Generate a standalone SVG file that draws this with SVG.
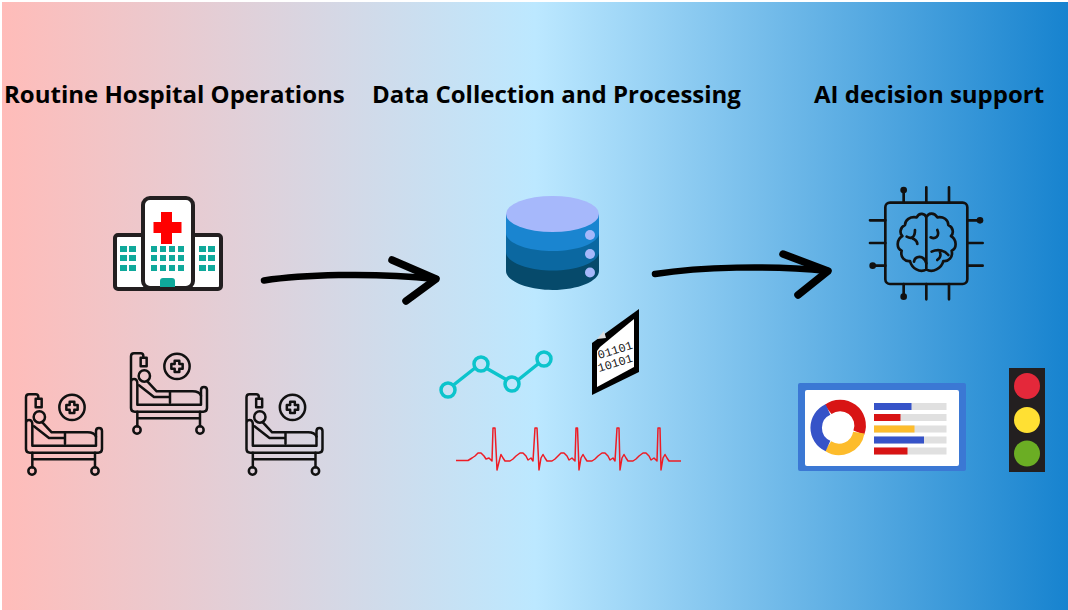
<svg xmlns="http://www.w3.org/2000/svg" xmlns:xlink="http://www.w3.org/1999/xlink" width="1068" height="610" viewBox="0 0 1068 610">
<style>
.t{font-family:"Open Sans","Liberation Sans",sans-serif;font-weight:700;font-size:24px;fill:#000}
.l{fill:none;stroke:#111;stroke-linecap:round;stroke-linejoin:round}
.a{fill:none;stroke:#000;stroke-linecap:round;stroke-linejoin:round}
</style>
<defs>
<linearGradient id="bg" x1="0" x2="1" y1="0" y2="0">
<stop offset="0" stop-color="#ffbcb9"/><stop offset="0.5" stop-color="#bce8ff"/><stop offset="1" stop-color="#1783cf"/>
</linearGradient>
<g id="bed" class="l" stroke-width="7.5">
<path d="M70 160V156Q70 148 62 148H42Q33 148 33 157V312Q33 323 44 323H250Q261 323 261 312V258Q261 249 252 249T243 258V302H52V238Q52 225 42 225T33 238"/>
<rect x="62" y="161" width="18" height="26"/>
<circle cx="73" cy="216" r="17"/>
<path d="M82 232L110 262H150V296M57 244L102 279H150M150 262H218Q238 262 243 275"/>
<path d="M52 323V367M240 323V367M52 343H240"/>
<circle cx="51" cy="378" r="11"/><circle cx="240" cy="378" r="11"/>
<circle cx="171" cy="187" r="38"/>
<path d="M164 170H178V180H188V194H178V204H164V194H154V180H164Z"/>
</g>
</defs>
<rect width="1068" height="610" fill="#fff"/>
<rect x="2" y="2" width="1066" height="608" fill="url(#bg)"/>
<text class="t" x="4" y="103">Routine Hospital Operations</text>
<text class="t" x="372" y="103">Data Collection and Processing</text>
<text class="t" x="814" y="103">AI decision support</text>
<g id="hospital">
<rect x="115" y="235" width="106" height="54" rx="3" fill="#fff" stroke="#231f20" stroke-width="4"/>
<rect x="143" y="198" width="50" height="90" rx="7" fill="#fff" stroke="#231f20" stroke-width="4"/>
<path d="M161 212h11v10h9.500v11h-9.500v11h-11v-11h-7.500v-11h7.500Z" fill="#f00"/>
<g fill="#0fa99b">
<path d="M120 246h7v6h-7zM129 246h7v6h-7zM120 255h7v6h-7zM129 255h7v6h-7zM120 265h7v6h-7zM129 265h7v6h-7z"/>
<path d="M199 246h7v6h-7zM208 246h7v6h-7zM199 255h7v6h-7zM208 255h7v6h-7zM199 265h7v6h-7zM208 265h7v6h-7z"/>
<path d="M151 246h6v6h-6zM160 246h6v6h-6zM169 246h6v6h-6zM178 246h6v6h-6zM151 255h6v6h-6zM160 255h6v6h-6zM169 255h6v6h-6zM178 255h6v6h-6zM151 265h6v6h-6zM160 265h6v6h-6zM169 265h6v6h-6zM178 265h6v6h-6z"/>
<path d="M160 281q0-3 3-3h9q3 0 3 3v6h-15z"/>
</g>
</g>
<g id="bed-1"><use xlink:href="#bed" href="#bed" transform="translate(15 345) scale(.3333)"/></g>
<g id="bed-2"><use xlink:href="#bed" href="#bed" transform="translate(120 304) scale(.3333)"/></g>
<g id="bed-3"><use xlink:href="#bed" href="#bed" transform="translate(235.500 345) scale(.3333)"/></g>
<g id="database">
<path d="M506 214V271C506 281 527 290 552.500 290S599 281 599 271V214Z" fill="#064a6b"/>
<path d="M506 214V252C506 262 527 270.500 552.500 270.500S599 262 599 252V214Z" fill="#0b68a1"/>
<path d="M506 214V233C506 243 527 251 552.500 251S599 243 599 233V214Z" fill="#1a85d0"/>
<ellipse cx="552.500" cy="214" rx="46.500" ry="18" fill="#a6b8fb"/>
<circle cx="590" cy="235" r="5" fill="#a6b8fb"/><circle cx="590" cy="254" r="5" fill="#a6b8fb"/><circle cx="590" cy="272.500" r="5" fill="#a6b8fb"/>
</g>
<g id="trend" fill="none" stroke="#0cc4cc" stroke-width="3.500">
<path d="M453.500 385L475 368M486 368L507 380M518 380L538 364"/>
<circle cx="448" cy="390" r="7"/><circle cx="481" cy="364" r="7"/><circle cx="512" cy="384" r="7"/><circle cx="544" cy="359" r="7"/>
</g>
<g id="binary-file">
<path d="M592 343L639 309V372L592 395Z" fill="#000"/>
<path d="M600 347L634 319V367L597 387V351Z" fill="#fff"/>
<path d="M597 339L604 331L606 338Z" fill="#ddd"/>
<g font-family="'Liberation Mono',monospace" font-size="12" fill="#222">
<text x="0" y="0" transform="translate(599 359) rotate(-17)">01101</text>
<text x="0" y="0" transform="translate(599 372) rotate(-17)">10101</text>
</g>
</g>
<g id="ecg"><path fill="none" stroke="#ee1c25" stroke-width="1.500" stroke-linejoin="round" d="M456 460.500H468L472 458L475 456L478 453L481 453L484 456L486 459L489 458L492 461L493 428L495 428L497 470L500 458L501 454.500L503 458L505 461H510L513 459L516 456L520 453L523 453L526 456L528 460L531 458L533 461L535 428L537 428L539 470L541 458L543 454.500L545 458L547 461H552L555 459L558 456L561 453L564 453L567 456L569 460L572 458L575 461L576 428L577.500 428L579 470L581 458L583 454.500L585 458L587 461H592L595 459L598 456L602 453L605 453L608 456L610 460L613 458L615 461L617 428L619 428L620 470L622 458L624 454.500L626 458L628 461H633L636 459L639 456L643 453L646 453L649 456L651 460L654 458L657 461L658 428L660 428L661 470L663 458L665 454.500L667 458L669 461H681"/></g>
<g id="ai-chip" transform="translate(860 180) scale(.3333)" class="l" stroke-width="8">
<rect x="76" y="68" width="246" height="244" rx="14"/>
<path d="M131 30V68M199 22V68M267 22V68M131 312V350M199 312V358M267 312V358M30 121H76M30 189H76M38 257H76M322 121H360M322 189H368M322 257H368"/>
<g fill="#111" stroke="none"><circle cx="131" cy="30" r="10"/><circle cx="131" cy="350" r="10"/><circle cx="360" cy="121" r="10"/><circle cx="38" cy="257" r="10"/></g>
<path d="M199 112V268M199 112C195 100 178 96 170 112C150 108 135 120 135 135C120 142 118 160 127 168C110 178 108 205 125 212C120 232 135 245 150 243C155 265 180 280 199 268M199 112C205 98 222 96 232 112C250 108 265 120 265 135C280 142 282 160 273 168C290 178 292 205 275 212C280 232 265 245 250 243C245 265 218 280 199 268"/>
<path d="M140 170C155 178 165 172 165 150M158 175C165 180 172 182 172 192M199 250C190 222 165 228 162 245M232 150C240 170 225 178 212 172M215 215C235 205 255 212 265 225M238 212C245 225 240 235 232 240"/>
</g>
<g id="dashboard">
<rect x="798" y="383" width="168" height="88" rx="2" fill="#3b78d4"/>
<rect x="805" y="390" width="154" height="76" rx="2" fill="#fff"/>
<g fill="none" stroke-width="11.500">
<path d="M828 409.500A20 20 0 0 1 858.800 432.600" stroke="#d81414"/>
<path d="M858.800 432.600A20 20 0 0 1 828 446" stroke="#fdbc2c"/>
<path d="M828 446A20 20 0 0 1 828 409.500" stroke="#3653c8"/>
</g>
<g fill="#e0e0e0"><rect x="874" y="403" width="72.500" height="7"/><rect x="874" y="414" width="72.500" height="7"/><rect x="874" y="425.500" width="72.500" height="7"/><rect x="874" y="436.500" width="72.500" height="7"/><rect x="874" y="447.500" width="72.500" height="7"/></g>
<rect x="874" y="403" width="37.500" height="7" fill="#3653c8"/>
<rect x="874" y="414" width="26.500" height="7" fill="#d81414"/>
<rect x="874" y="425.500" width="40.500" height="7" fill="#fdbc2c"/>
<rect x="874" y="436.500" width="50" height="7" fill="#3653c8"/>
<rect x="874" y="447.500" width="33.500" height="7" fill="#d81414"/>
</g>
<g id="traffic-light">
<rect x="1009" y="368" width="36" height="104" fill="#231f20"/>
<circle cx="1027" cy="386" r="13" fill="#e4283a"/><circle cx="1027" cy="420" r="13" fill="#ffe033"/><circle cx="1027" cy="453.500" r="13" fill="#6bae24"/>
</g>
<g id="connectors" class="a">
<path d="M264 280.500C300 275 370 272 436 279" stroke-width="6.500"/>
<path d="M392 260L436 279L406 301" stroke-width="7.500"/>
<path d="M655 274C700 267 770 265 828 271" stroke-width="6.500"/>
<path d="M783 254L828 271L798 295" stroke-width="7.500"/>
</g>
</svg>
